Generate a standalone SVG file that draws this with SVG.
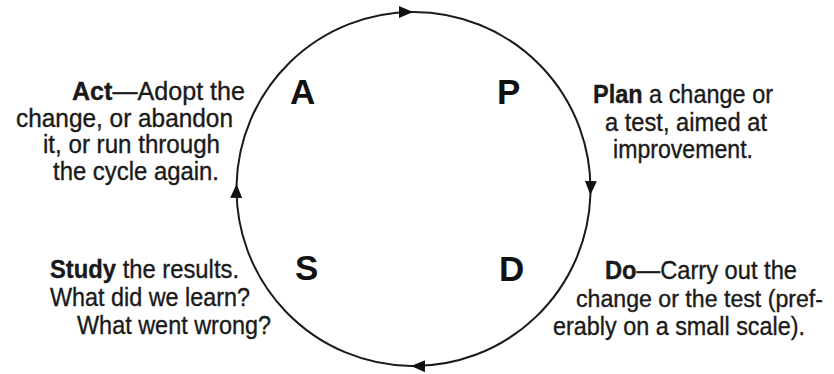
<svg xmlns="http://www.w3.org/2000/svg" width="834" height="374" viewBox="0 0 834 374">
<style>
.t{font-family:"Liberation Sans",Arial,sans-serif;font-size:25px;fill:#1a1a1a;stroke:#1a1a1a;stroke-width:0.35}
.b{font-weight:bold}
.L{font-family:"Liberation Sans",Arial,sans-serif;font-size:35px;font-weight:bold;fill:#111}
.arc{fill:none;stroke:#1a1a1a;stroke-width:2}
</style>
<defs>
<marker id="ah" markerUnits="userSpaceOnUse" markerWidth="16" markerHeight="12" refX="14" refY="6" orient="auto">
<path d="M0,0 L14,6 L0,12 Z" fill="#111"/>
</marker>
</defs>
<rect width="834" height="374" fill="#fff"/>
<g id="connectors">
<path class="arc" d="M236.6,184 A177,177 0 0 1 413,12" marker-end="url(#ah)"/>
<path class="arc" d="M413,12 A177,177 0 0 1 590.4,195" marker-end="url(#ah)"/>
<path class="arc" d="M590.4,195 A177,177 0 0 1 411,366" marker-end="url(#ah)"/>
<path class="arc" d="M411,366 A177,177 0 0 1 236.6,184" marker-end="url(#ah)"/>
</g>
<g id="act">
<text class="L" x="290" y="104">A</text>
<text class="t" x="72" y="100" textLength="173" lengthAdjust="spacingAndGlyphs"><tspan class="b">Act</tspan>—Adopt the</text>
<text class="t" x="16" y="127" textLength="217" lengthAdjust="spacingAndGlyphs">change, or abandon</text>
<text class="t" x="43" y="153" textLength="177" lengthAdjust="spacingAndGlyphs">it, or run through</text>
<text class="t" x="53" y="180" textLength="166" lengthAdjust="spacingAndGlyphs">the cycle again.</text>
</g>
<g id="plan">
<text class="L" x="497" y="104">P</text>
<text class="t" x="593" y="103" textLength="180" lengthAdjust="spacingAndGlyphs"><tspan class="b">Plan</tspan> a change or</text>
<text class="t" x="605" y="131" textLength="162" lengthAdjust="spacingAndGlyphs">a test, aimed at</text>
<text class="t" x="613" y="158" textLength="140" lengthAdjust="spacingAndGlyphs">improvement.</text>
</g>
<g id="study">
<text class="L" x="295" y="280">S</text>
<text class="t" x="50" y="278" textLength="189" lengthAdjust="spacingAndGlyphs"><tspan class="b">Study</tspan> the results.</text>
<text class="t" x="50" y="306" textLength="200" lengthAdjust="spacingAndGlyphs">What did we learn?</text>
<text class="t" x="77" y="334" textLength="194" lengthAdjust="spacingAndGlyphs">What went wrong?</text>
</g>
<g id="do">
<text class="L" x="499" y="281">D</text>
<text class="t" x="605" y="279" textLength="192" lengthAdjust="spacingAndGlyphs"><tspan class="b">Do</tspan>—Carry out the</text>
<text class="t" x="576" y="307" textLength="247" lengthAdjust="spacingAndGlyphs" style="font-size:23px">change or the test (pref-</text>
<text class="t" x="553" y="335" textLength="252" lengthAdjust="spacingAndGlyphs">erably on a small scale).</text>
</g>
</svg>
